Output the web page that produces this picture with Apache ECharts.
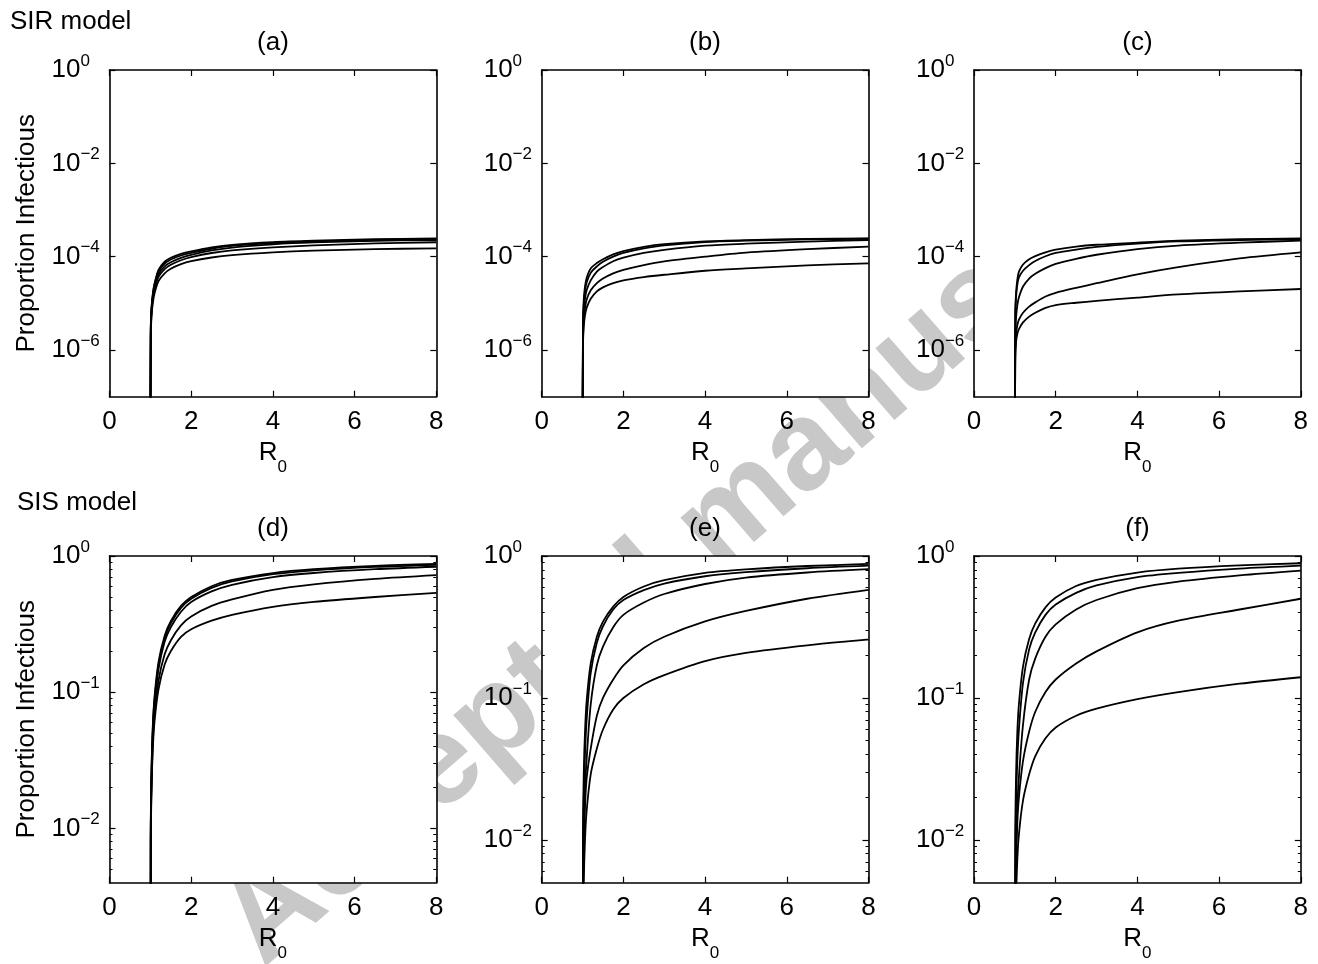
<!DOCTYPE html>
<html><head><meta charset="utf-8">
<script src="https://cdn.jsdelivr.net/npm/echarts@6/dist/echarts.min.js"></script>
<style>html,body{margin:0;padding:0;background:#fff}#c{width:1318px;height:964px}</style>
</head><body><div id="c"></div>
<script>
// ---------------- data ----------------
const R0 = [1, 1.01, 1.03, 1.06, 1.1, 1.2, 1.35, 1.5, 1.75, 2, 2.5, 3, 4, 5, 6.5, 8];
const panelTitles = ['(a)', '(b)', '(c)', '(d)', '(e)', '(f)'];
const rowLabels = ['SIR model', 'SIS model'];
const xTickValues = [0, 2, 4, 6, 8];
const yTicksSIR = [1e-6, 1e-4, 1e-2, 1];
const yTicksSIS = [1e-2, 1e-1, 1];
const yMinByPanel = [1e-7, 1e-7, 1e-7, 0.004, 0.005, 0.005];

const sirA = [
  [1e-9, 2.9e-6, 8.5e-6, 1.6e-5, 2.6e-5, 5.2e-5, 7.8e-5, 9.5e-5, 1.15e-4, 1.3e-4, 1.58e-4, 1.8e-4, 2.05e-4, 2.2e-4, 2.37e-4, 2.47e-4],
  [1e-9, 2.7e-6, 8e-6, 1.5e-5, 2.5e-5, 4.8e-5, 7.1e-5, 8.7e-5, 1.06e-4, 1.21e-4, 1.48e-4, 1.7e-4, 1.95e-4, 2.12e-4, 2.3e-4, 2.4e-4],
  [1e-9, 2.5e-6, 7.3e-6, 1.35e-5, 2.2e-5, 4.2e-5, 6.2e-5, 7.6e-5, 9.4e-5, 1.1e-4, 1.36e-4, 1.57e-4, 1.84e-4, 2.02e-4, 2.18e-4, 2.28e-4],
  [1e-9, 2.3e-6, 6.8e-6, 1.25e-5, 2.0e-5, 3.7e-5, 5.4e-5, 6.7e-5, 8.4e-5, 9.8e-5, 1.2e-4, 1.36e-4, 1.58e-4, 1.75e-4, 1.92e-4, 2.04e-4],
  [1e-9, 1.9e-6, 5.5e-6, 1.0e-5, 1.6e-5, 3.0e-5, 4.4e-5, 5.5e-5, 6.9e-5, 8.0e-5, 9.6e-5, 1.08e-4, 1.24e-4, 1.35e-4, 1.45e-4, 1.51e-4]
];
const sirB = [
  [1e-9, 4e-6, 1.2e-5, 2.3e-5, 3.5e-5, 5.6e-5, 7.3e-5, 8.8e-5, 1.12e-4, 1.32e-4, 1.62e-4, 1.85e-4, 2.13e-4, 2.27e-4, 2.4e-4, 2.47e-4],
  [1e-9, 3.2e-6, 9.5e-6, 1.8e-5, 2.8e-5, 4.5e-5, 6.2e-5, 7.8e-5, 1.0e-4, 1.2e-4, 1.5e-4, 1.75e-4, 2.06e-4, 2.2e-4, 2.34e-4, 2.42e-4],
  [1e-9, 2.4e-6, 6.8e-6, 1.25e-5, 1.9e-5, 3.1e-5, 4.8e-5, 6.0e-5, 8.0e-5, 9.5e-5, 1.2e-4, 1.4e-4, 1.72e-4, 1.9e-4, 2.1e-4, 2.28e-4],
  [1e-9, 1.6e-6, 4.5e-6, 8e-6, 1.2e-5, 1.9e-5, 2.7e-5, 3.4e-5, 4.4e-5, 5.2e-5, 6.6e-5, 7.9e-5, 1.0e-4, 1.22e-4, 1.45e-4, 1.64e-4],
  [1e-9, 1.2e-6, 3.2e-6, 5.5e-6, 8e-6, 1.25e-5, 1.8e-5, 2.2e-5, 2.7e-5, 3.1e-5, 3.65e-5, 4.1e-5, 5.0e-5, 5.6e-5, 6.5e-5, 7.2e-5]
];
const sirC = [
  [1e-9, 6e-6, 1.7e-5, 3.2e-5, 4.8e-5, 6.8e-5, 8.8e-5, 1.03e-4, 1.24e-4, 1.42e-4, 1.65e-4, 1.8e-4, 2.0e-4, 2.2e-4, 2.37e-4, 2.47e-4],
  [1e-9, 4.8e-6, 1.35e-5, 2.5e-5, 3.6e-5, 5.0e-5, 6.6e-5, 8.1e-5, 1.02e-4, 1.2e-4, 1.42e-4, 1.62e-4, 1.9e-4, 2.12e-4, 2.28e-4, 2.36e-4],
  [1e-9, 1.8e-6, 5e-6, 9e-6, 1.35e-5, 2.3e-5, 3.4e-5, 4.3e-5, 5.7e-5, 7.0e-5, 9.0e-5, 1.1e-4, 1.45e-4, 1.73e-4, 2.0e-4, 2.2e-4],
  [1e-9, 9e-7, 2.2e-6, 3.4e-6, 4.5e-6, 6.3e-6, 8.5e-6, 1.05e-5, 1.4e-5, 1.68e-5, 2.15e-5, 2.7e-5, 4.2e-5, 6.0e-5, 9.2e-5, 1.24e-4],
  [1e-9, 6e-7, 1.5e-6, 2.2e-6, 2.8e-6, 3.9e-6, 5.2e-6, 6.3e-6, 8.0e-6, 9.2e-6, 1.03e-5, 1.13e-5, 1.33e-5, 1.55e-5, 1.8e-5, 2.03e-5]
];
const sisD = [
  [1e-9, 0.0099, 0.029, 0.057, 0.091, 0.167, 0.26, 0.333, 0.43, 0.5, 0.6, 0.667, 0.75, 0.8, 0.846, 0.875],
  [1e-9, 0.0093, 0.027, 0.054, 0.086, 0.158, 0.25, 0.32, 0.415, 0.485, 0.583, 0.65, 0.735, 0.785, 0.832, 0.862],
  [1e-9, 0.0086, 0.025, 0.05, 0.08, 0.148, 0.235, 0.3, 0.39, 0.46, 0.55, 0.615, 0.7, 0.75, 0.8, 0.834],
  [1e-9, 0.0075, 0.022, 0.043, 0.068, 0.122, 0.19, 0.24, 0.31, 0.36, 0.43, 0.48, 0.565, 0.62, 0.68, 0.725],
  [1e-9, 0.0068, 0.02, 0.038, 0.06, 0.105, 0.16, 0.2, 0.255, 0.29, 0.335, 0.37, 0.424, 0.46, 0.5, 0.537]
];
const sisE = [
  [1e-9, 0.0101, 0.03, 0.058, 0.095, 0.175, 0.27, 0.345, 0.44, 0.515, 0.61, 0.675, 0.76, 0.805, 0.85, 0.879],
  [1e-9, 0.0068, 0.02, 0.04, 0.07, 0.15, 0.245, 0.32, 0.42, 0.49, 0.575, 0.64, 0.72, 0.77, 0.82, 0.855],
  [1e-9, 0.004, 0.012, 0.023, 0.037, 0.09, 0.17, 0.23, 0.315, 0.385, 0.47, 0.54, 0.635, 0.705, 0.765, 0.807],
  [1e-9, 0.003, 0.009, 0.017, 0.027, 0.044, 0.075, 0.1, 0.135, 0.17, 0.225, 0.27, 0.346, 0.41, 0.5, 0.578],
  [1e-9, 0.0017, 0.005, 0.01, 0.016, 0.029, 0.044, 0.06, 0.083, 0.1, 0.125, 0.145, 0.182, 0.208, 0.235, 0.258]
];
const sisF = [
  [1e-9, 0.0099, 0.029, 0.057, 0.091, 0.167, 0.26, 0.335, 0.435, 0.51, 0.615, 0.68, 0.765, 0.815, 0.86, 0.889],
  [1e-9, 0.0062, 0.018, 0.036, 0.06, 0.128, 0.22, 0.29, 0.385, 0.455, 0.55, 0.62, 0.71, 0.76, 0.815, 0.855],
  [1e-9, 0.003, 0.0087, 0.017, 0.028, 0.065, 0.135, 0.19, 0.27, 0.33, 0.42, 0.49, 0.593, 0.66, 0.73, 0.789],
  [1e-9, 0.0023, 0.0068, 0.013, 0.02, 0.036, 0.058, 0.08, 0.11, 0.135, 0.175, 0.213, 0.29, 0.35, 0.42, 0.5],
  [1e-9, 0.0013, 0.0038, 0.0072, 0.011, 0.019, 0.029, 0.039, 0.052, 0.062, 0.075, 0.084, 0.098, 0.11, 0.126, 0.14]
];
const panels = [sirA, sirB, sirC, sisD, sisE, sisF];

// ---------------- layout / style ----------------
const FONT = 'Liberation Sans, Arial, Helvetica, sans-serif';
const FS = 26, FS_SUP = 17;
const colLeft = [109.5, 541.7, 974];
const colCenter = [273, 705, 1137.5];
const rowTop = [70, 556];
const plotW = 326.8, plotH = 326.7;

function supLabel(v) {
  const e = Math.round(Math.log10(v));
  return '{b|10}{s|' + (e < 0 ? '\u2212' + (-e) : e) + '}';
}
function minorTicks(min) {
  const out = [];
  for (let e = Math.floor(Math.log10(min)); e < 0; e++) {
    for (let k = 2; k <= 9; k++) {
      const v = k * Math.pow(10, e);
      if (v > min * 1.0001 && v < 1) out.push(v);
    }
  }
  return out;
}
const lineCol = '#000';
const grids = [], xAxes = [], yAxes = [], series = [], graphics = [];

graphics.push({
  type: 'text', x: 724, y: 522, rotation: 41 * Math.PI / 180, z: -10, silent: true,
  style: { text: 'Accepted manuscript', font: 'bold 126px ' + FONT, fill: '#c8c8c8', textAlign: 'center', textVerticalAlign: 'middle' }
});

for (let p = 0; p < 6; p++) {
  const row = p < 3 ? 0 : 1, col = p % 3;
  const ymin = yMinByPanel[p];
  const majors = row === 0 ? yTicksSIR : yTicksSIS;
  const minors = row === 0 ? [] : minorTicks(ymin);
  grids.push({ left: colLeft[col], top: rowTop[row], width: plotW, height: plotH, show: true, backgroundColor: '#fff', borderWidth: 0, containLabel: false });
  const xBase = {
    type: 'value', gridIndex: p, min: 0, max: 8, interval: 2,
    axisLine: { show: true, onZero: false, lineStyle: { color: lineCol, width: 1.6 } },
    axisTick: { show: true, inside: true, length: 6, lineStyle: { color: lineCol, width: 1.2 } },
    splitLine: { show: false }
  };
  xAxes.push(Object.assign({}, xBase, {
    position: 'bottom',
    axisLabel: { show: true, color: '#000', fontSize: FS, fontFamily: FONT, margin: 12,
      customValues: xTickValues },
    name: '{r|R}{s|0}', nameLocation: 'middle', nameGap: 43,
    nameTextStyle: { rich: {
      r: { fontSize: FS, fontFamily: FONT, color: '#000', verticalAlign: 'top' },
      s: { fontSize: FS_SUP, fontFamily: FONT, color: '#000', lineHeight: 56 }
    } }
  }));
  xAxes.push(Object.assign({}, xBase, { position: 'top', axisLabel: { show: false } }));

  const yBase = {
    type: 'log', logBase: 10, gridIndex: p, min: ymin, max: 1,
    axisLine: { show: true, onZero: false, lineStyle: { color: lineCol, width: 1.6 } },
    splitLine: { show: false }, minorTick: { show: false }
  };
  const yName = col === 0 ? {
    name: 'Proportion Infectious', nameLocation: 'middle', nameGap: 70,
    nameTextStyle: { fontSize: FS, fontFamily: FONT, color: '#000' }
  } : {};
  yAxes.push(Object.assign({}, yBase, yName, {
    position: 'left',
    axisTick: { show: true, inside: true, length: 6, customValues: majors, lineStyle: { color: lineCol, width: 1.2 } },
    axisLabel: { show: true, customValues: majors, formatter: supLabel, align: 'left', margin: 58,
      rich: {
        b: { fontSize: FS, fontFamily: FONT, color: '#000', lineHeight: 35 },
        s: { fontSize: FS_SUP, fontFamily: FONT, color: '#000', lineHeight: 15, verticalAlign: 'top' }
      } }
  }));
  yAxes.push(Object.assign({}, yBase, {
    position: 'right',
    axisTick: { show: true, inside: true, length: 6, customValues: majors, lineStyle: { color: lineCol, width: 1.2 } },
    axisLabel: { show: false }
  }));
  ['left', 'right'].forEach(pos => {
    yAxes.push(Object.assign({}, yBase, {
      position: pos,
      axisLine: { show: false, onZero: false },
      axisTick: { show: minors.length > 0, inside: true, length: 3, customValues: minors.length ? minors : [ymin], lineStyle: { color: lineCol, width: 1 } },
      axisLabel: { show: false }
    }));
  });

  panels[p].forEach(vals => {
    series.push({
      type: 'line', xAxisIndex: 2 * p, yAxisIndex: 4 * p,
      data: R0.map((x, i) => [x, vals[i]]),
      showSymbol: false, symbol: 'none', smooth: 0.3,
      lineStyle: { color: '#000', width: 1.8 }, silent: true, clip: true
    });
  });

  graphics.push({ type: 'text', x: colCenter[col], y: rowTop[row] - 27, z: 5, silent: true,
    style: { text: panelTitles[p], font: FS + 'px ' + FONT, fill: '#000', textAlign: 'center', textVerticalAlign: 'middle' } });
}
graphics.push({ type: 'text', x: 10, y: 22, z: 5, silent: true,
  style: { text: rowLabels[0], font: FS + 'px ' + FONT, fill: '#000', textAlign: 'left', textVerticalAlign: 'middle' } });
graphics.push({ type: 'text', x: 17, y: 503, z: 5, silent: true,
  style: { text: rowLabels[1], font: FS + 'px ' + FONT, fill: '#000', textAlign: 'left', textVerticalAlign: 'middle' } });

const chart = echarts.init(document.getElementById('c'), null, { renderer: 'canvas' });
chart.setOption({
  backgroundColor: '#fff',
  animation: false,
  textStyle: { fontFamily: FONT },
  grid: grids, xAxis: xAxes, yAxis: yAxes, series: series,
  graphic: { elements: graphics }
});
</script></body></html>
